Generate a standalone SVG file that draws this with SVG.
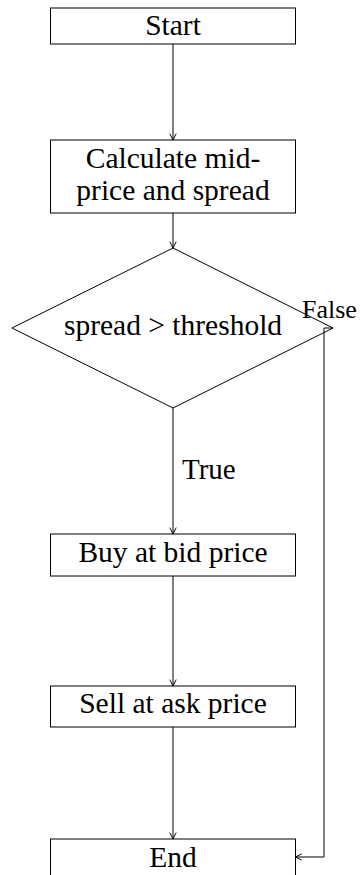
<svg xmlns="http://www.w3.org/2000/svg" width="360" height="875" viewBox="0 0 360 875">
<style>
.n{fill:#fff;stroke:#000;stroke-width:1}
.t{font-family:"Liberation Serif","DejaVu Serif",serif;font-size:29.5px;fill:#000;text-anchor:middle}
.l{font-family:"Liberation Serif","DejaVu Serif",serif;font-size:29px;fill:#000}
.c{fill:none;stroke:#000;stroke-width:1}
</style>
<defs>
<marker id="a" viewBox="0 0 10 10" refX="9" refY="5" markerWidth="8" markerHeight="8" markerUnits="userSpaceOnUse" orient="auto">
<path d="M1,1 L9,5 L1,9" fill="none" stroke="#000" stroke-width="1.2"/>
</marker>
</defs>
<g id="start">
<rect class="n" x="50.5" y="8" width="245" height="36"/>
<text class="t" x="173" y="35">Start</text>
</g>
<g id="calc">
<rect class="n" x="50.5" y="140" width="245" height="73"/>
<text class="t" x="173" y="168">Calculate mid-</text>
<text class="t" x="173" y="200">price and spread</text>
</g>
<g id="decision">
<polygon class="n" points="173,248 333,328 173,408 12,328"/>
<text class="t" x="173" y="335">spread &gt; threshold</text>
</g>
<g id="buy">
<rect class="n" x="50.5" y="534" width="245" height="42"/>
<text class="t" x="173" y="562">Buy at bid price</text>
</g>
<g id="sell">
<rect class="n" x="50.5" y="686" width="245" height="41"/>
<text class="t" x="173" y="713">Sell at ask price</text>
</g>
<g id="end">
<rect class="n" x="50.5" y="839" width="245" height="50"/>
<text class="t" x="173" y="867">End</text>
</g>
<g id="connectors">
<path class="c" d="M173,44 V140" marker-end="url(#a)"/>
<path class="c" d="M173,213 V248" marker-end="url(#a)"/>
<path class="c" d="M173,408 V534" marker-end="url(#a)"/>
<path class="c" d="M173,576 V686" marker-end="url(#a)"/>
<path class="c" d="M173,727 V839" marker-end="url(#a)"/>
<path class="c" d="M333,328 H324 V857 H295.5" marker-end="url(#a)"/>
<text class="l" x="182" y="479">True</text>
<text class="l" x="302" y="318" style="font-size:26px">False</text>
</g>
</svg>
